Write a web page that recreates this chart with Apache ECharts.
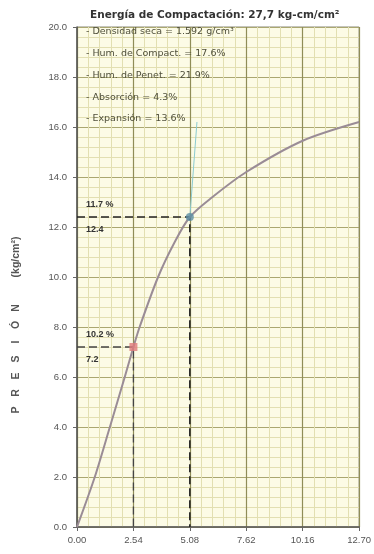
<!DOCTYPE html>
<html>
<head>
<meta charset="utf-8">
<script src="https://cdn.jsdelivr.net/npm/echarts@6/dist/echarts.min.js"></script>
<style>
  html, body { margin: 0; padding: 0; background: #fff; }
  #chart { width: 374px; height: 554px; }
</style>
</head>
<body>
<div id="chart"></div>
<script>
// Penetration curve (CBR test): penetration (mm) vs. pressure (kg/cm²)
const penetracion = [0, 0.8, 1.48, 2.15, 2.54, 2.82, 3.65, 4.4, 5.08, 6.1, 7.62, 10.16, 12.7];
const presion     = [0, 2.0, 4.0, 6.0, 7.2, 8.0, 10.0, 11.4, 12.4, 13.2, 14.2, 15.45, 16.2];

// Reference penetrations and their readings
const penRef   = [2.54, 5.08];
const presRef  = [7.2, 12.4];
const cbrRef   = ['10.2 %', '11.7 %'];

// Thin guide line rising from the 5.08 mm reading
const guiaX = [5.08, 5.4];
const guiaY = [12.4, 16.2];

// Axis ticks
const xTicks = [0, 2.54, 5.08, 7.62, 10.16, 12.7];
const yMax = 20;

const titulo = 'Energía de Compactación: 27,7 kg-cm/cm²';
const datosEnsayo = [
  '- Densidad seca = 1.592 g/cm³',
  '- Hum. de Compact. = 17.6%',
  '- Hum. de Penet. = 21.9%',
  '- Absorción = 4.3%',
  '- Expansión = 13.6%'
];

const FONT = '"Liberation Sans", Arial, sans-serif';
const FONT_W = '"DejaVu Sans", Verdana, sans-serif';
const chart = echarts.init(document.getElementById('chart'), null, { renderer: 'canvas' });

const curva = penetracion.map((x, i) => [x, presion[i]]);
const guia = guiaX.map((x, i) => [x, guiaY[i]]);

function dashedGuide(i, width, color) {
  return {
    type: 'line',
    data: [[0, presRef[i]], [penRef[i], presRef[i]], [penRef[i], 0]],
    symbol: 'none',
    lineStyle: { color: color, width: width, type: [8, 4] },
    z: 4,
    silent: true
  };
}

const option = {
  animation: false,
  backgroundColor: '#ffffff',
  grid: {
    left: 77, right: 14, top: 27, bottom: 27,
    show: true, backgroundColor: '#fcfbe6', borderColor: '#8a8a7a', borderWidth: 1
  },
  xAxis: {
    type: 'value', min: 0, max: 12.7, interval: 2.54,
    axisLine: { show: true, lineStyle: { color: '#555', width: 1.5 } },
    axisTick: { show: true, length: 4, lineStyle: { color: '#666' } },
    axisLabel: {
      color: '#555', fontFamily: FONT, fontSize: 9.5, margin: 8,
      formatter: v => v.toFixed(2), showMaxLabel: true
    },
    splitLine: { show: true, lineStyle: { color: '#8f8d58', width: 1.2 } },
    minorTick: { show: false, splitNumber: 5 },
    minorSplitLine: { show: true, lineStyle: { color: '#e2dfb2', width: 1 } }
  },
  yAxis: {
    type: 'value', min: 0, max: yMax, interval: 2,
    axisLine: { show: true, lineStyle: { color: '#555', width: 1.5 } },
    axisTick: { show: true, length: 4, lineStyle: { color: '#666' } },
    axisLabel: {
      color: '#555', fontFamily: FONT, fontSize: 9.5, margin: 10,
      formatter: v => v.toFixed(1)
    },
    splitLine: { show: true, lineStyle: { color: '#aaa770', width: 1.2 } },
    minorTick: { show: false, splitNumber: 5 },
    minorSplitLine: { show: true, lineStyle: { color: '#e2dfb2', width: 1 } }
  },
  series: [
    dashedGuide(1, 1.6, '#222'),
    dashedGuide(0, 1.3, '#444'),
    {
      type: 'line',
      data: guia,
      symbol: 'none',
      lineStyle: { color: '#8ccbd0', width: 1 },
      z: 3,
      silent: true
    },
    {
      type: 'line',
      data: curva,
      smooth: 0.3,
      symbol: 'none',
      lineStyle: { color: '#9a8c96', width: 2 },
      z: 5
    },
    {
      type: 'scatter',
      data: [
        { value: [penRef[0], presRef[0]], itemStyle: { color: '#e07a7a' }, symbol: 'rect', symbolSize: 8 },
        { value: [penRef[1], presRef[1]], itemStyle: { color: '#5d8ea4' }, symbol: 'circle', symbolSize: 8 }
      ],
      z: 6
    }
  ]
};

chart.setOption(option);

// Text placed after layout so labels follow the data scale
const graphics = [];
graphics.push({
  type: 'text', left: 90, top: 10,
  style: { text: titulo, fontFamily: FONT_W, fontSize: 10.5, fontWeight: 'bold', fill: '#333' }
});
datosEnsayo.forEach((t, i) => {
  graphics.push({
    type: 'text', left: 86, top: 27 + i * 21.7,
    style: { text: t, fontFamily: FONT_W, fontSize: 9.5, fill: '#4f4f3a' }
  });
});
presRef.forEach((p, i) => {
  const py = chart.convertToPixel({ gridIndex: 0 }, [0, p])[1];
  graphics.push({
    type: 'text', x: 86, y: py - 17,
    style: { text: cbrRef[i], fontFamily: FONT, fontSize: 9, fontWeight: 'bold', fill: '#333' }
  });
  graphics.push({
    type: 'text', x: 86, y: py + 8,
    style: { text: p.toFixed(1), fontFamily: FONT, fontSize: 9, fontWeight: 'bold', fill: '#333' }
  });
});
// Vertical axis title, letter-spaced
const letras = ['P', 'R', 'E', 'S', 'I', 'Ó', 'N'];
letras.forEach((l, i) => {
  graphics.push({
    type: 'text', x: 16, y: 410 - i * 17, rotation: Math.PI / 2,
    style: { text: l, fontFamily: FONT, fontSize: 10.5, fontWeight: 'bold', fill: '#555',
             align: 'center', verticalAlign: 'middle' }
  });
});
graphics.push({
  type: 'text', x: 16, y: 257, rotation: Math.PI / 2,
  style: { text: '(kg/cm²)', fontFamily: FONT, fontSize: 10.5, fontWeight: 'bold', fill: '#555',
           align: 'center', verticalAlign: 'middle' }
});
chart.setOption({ graphic: graphics });
</script>
</body>
</html>
